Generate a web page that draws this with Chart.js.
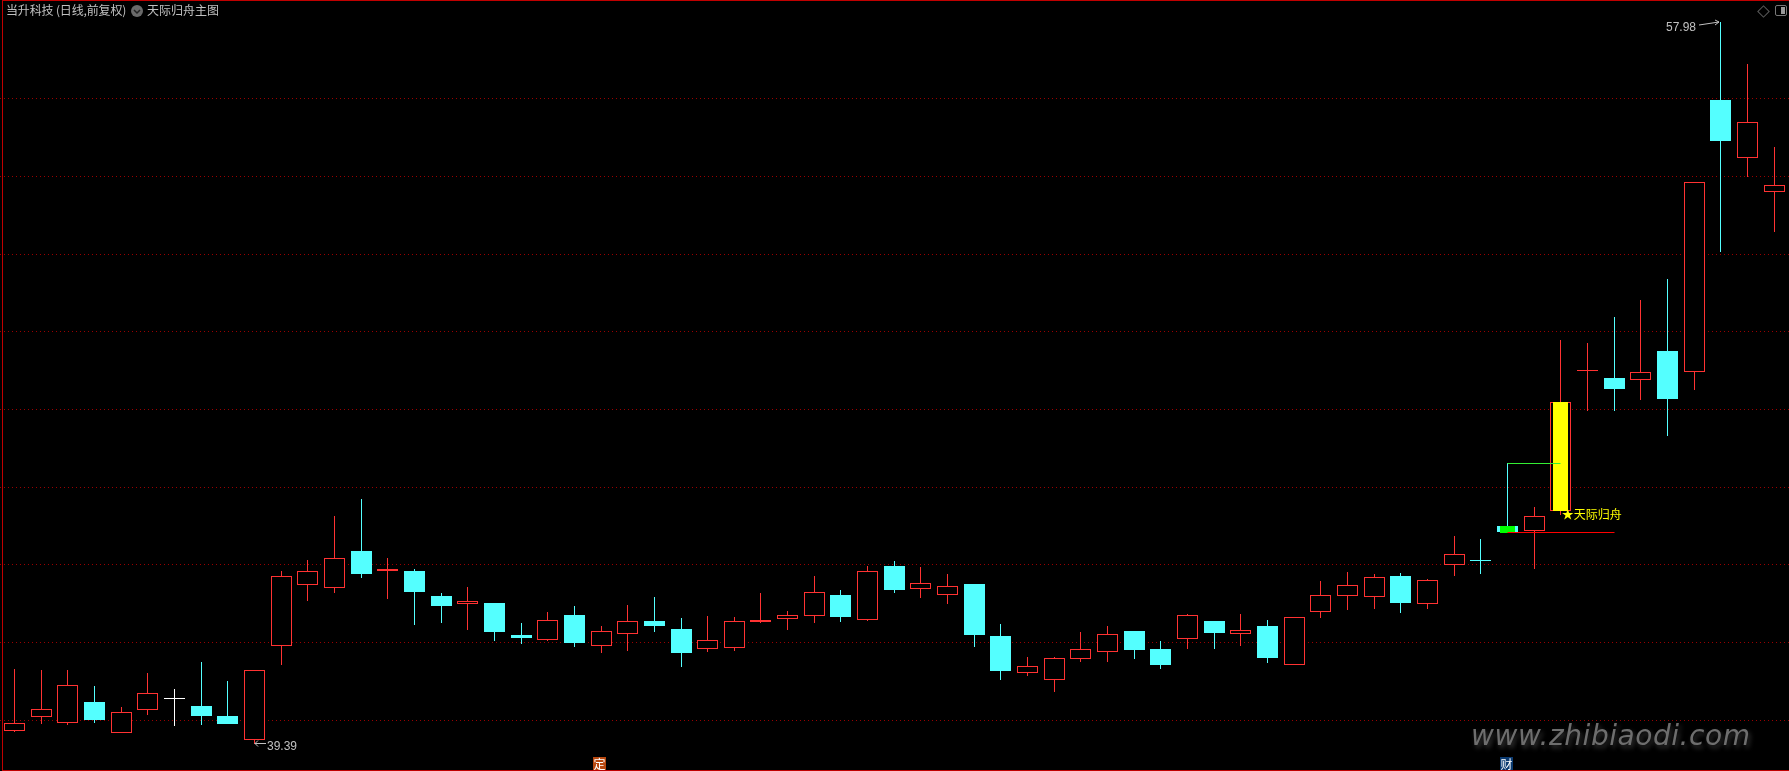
<!DOCTYPE html>
<html lang="zh-CN">
<head>
    <meta charset="UTF-8">
    <title>当升科技 日线</title>
    <script src="https://cdn.jsdelivr.net/npm/chart.js"></script>
    <style>
        html, body {
            margin: 0;
            width: 1789px;
            height: 771px;
            overflow: hidden;
            background: #000;
        }
        canvas { position: absolute; left: 0; top: 0; }
        .frame {
            position: absolute;
            left: 2px;
            top: 0;
            width: 1787px;
            height: 769px;
            border-top: 1px solid #c00000;
            border-left: 1px solid #c00000;
            border-bottom: 1px solid #c00000;
        }
        .head {
            position: absolute;
            top: 2px;
            font: 12px/16px "Noto Sans CJK SC", sans-serif;
            color: #c0c0c0;
            white-space: nowrap;
        }
        .badge {
            position: absolute;
            top: 757px;
            width: 13px;
            height: 13px;
            font: 12px/13px "Noto Sans CJK SC", sans-serif;
            color: #fff;
            text-align: center;
        }
        .watermark {
            position: absolute;
            left: 1471px;
            top: 719px;
            font: italic 28px/34px "DejaVu Sans", sans-serif;
            letter-spacing: 0.55px;
            color: #6e6e6e;
            text-shadow: 2px 3px 5px #3a3a3a;
            white-space: nowrap;
        }
        .icon-diamond {
            position: absolute;
            left: 1759px;
            top: 7px;
            width: 7px;
            height: 7px;
            border: 1px solid #5a5a5a;
            transform: rotate(45deg);
        }
        .icon-panel {
            position: absolute;
            left: 1775px;
            top: 5px;
            width: 10px;
            height: 9px;
            border: 1px solid #777;
            border-radius: 2px;
        }
        .icon-panel div {
            position: absolute;
            right: 1px;
            top: 1px;
            width: 4px;
            height: 7px;
            background: #999;
        }
        .icon-menu { position: absolute; left: 131px; top: 5px; }
    </style>
</head>
<body>
    <canvas id="klineChart" width="1789" height="771"></canvas>
    <div class="frame"></div>
    <div class="head" style="left:6px;letter-spacing:-0.15px">当升科技 (日线,前复权)</div>
    <svg class="icon-menu" width="12" height="12">
        <circle cx="6" cy="6" r="6" fill="#6a6a6a"/>
        <polyline points="3,5 6,8 9,5" fill="none" stroke="#222" stroke-width="1.5"/>
    </svg>
    <div class="head" style="left:147px">天际归舟主图</div>
    <div class="icon-diamond"></div>
    <div class="icon-panel"><div></div></div>
    <div class="badge" style="left:593px;background:#b8480f">定</div>
    <div class="badge" style="left:1500px;background:#0b3a70">财</div>
    <div class="watermark">www.zhibiaodi.com</div>

    <script>
        const opens = [39.73, 40.09, 39.94, 40.47, 39.68, 40.27, 40.57, 40.37, 40.11, 39.50,
            41.90, 43.49, 43.41, 44.36, 43.84, 43.84, 43.20, 43.00, 43.02, 42.20,
            42.07, 42.71, 41.90, 42.23, 42.56, 42.35, 41.84, 41.87, 42.53, 42.62,
            42.69, 43.23, 42.59, 43.97, 43.39, 43.23, 43.51, 42.17, 41.23, 41.05,
            41.59, 41.77, 42.30, 41.84, 42.10, 42.56, 42.23, 42.43, 41.43, 42.80,
            43.21, 43.18, 43.71, 43.00, 44.01, 44.12, 45.00, 44.88, 45.40, 49.01,
            48.81, 48.77, 49.51, 48.97, 55.97, 54.48, 53.61];
        const closes = [39.92, 40.28, 40.90, 40.01, 40.21, 40.69, 40.57, 40.11, 39.90, 41.29,
            43.71, 43.83, 44.17, 43.77, 43.89, 43.30, 42.94, 43.07, 42.27, 42.12,
            42.57, 41.99, 42.29, 42.55, 42.43, 41.73, 42.06, 42.55, 42.58, 42.70,
            43.29, 42.66, 43.83, 43.35, 43.53, 43.45, 42.20, 41.27, 41.39, 41.60,
            41.83, 42.21, 41.81, 41.42, 42.70, 42.25, 42.32, 41.60, 42.65, 43.23,
            43.48, 43.68, 43.02, 43.60, 44.27, 44.12, 44.85, 45.25, 48.19, 49.01,
            48.53, 48.96, 48.27, 53.85, 54.91, 55.39, 53.77];
        const highs = [41.32, 41.29, 41.29, 40.88, 40.34, 41.22, 40.81, 41.50, 41.01, 41.29,
            43.84, 44.13, 45.26, 45.70, 44.18, 43.89, 43.28, 43.43, 43.02, 42.50,
            42.79, 42.94, 42.43, 42.97, 43.17, 42.63, 42.68, 42.66, 43.28, 42.81,
            43.71, 43.35, 43.97, 44.10, 43.95, 43.77, 43.51, 42.48, 41.63, 41.63,
            42.27, 42.43, 42.30, 42.04, 42.74, 42.56, 42.74, 42.58, 42.65, 43.59,
            43.82, 43.77, 43.79, 43.64, 44.74, 44.67, 46.62, 45.49, 49.79, 49.71,
            50.38, 50.82, 51.36, 53.85, 57.98, 56.89, 54.76];
        const lows = [39.70, 39.90, 39.88, 39.93, 39.68, 40.14, 39.85, 39.88, 39.90, 39.39,
            41.42, 43.07, 43.28, 43.66, 43.12, 42.45, 42.50, 42.32, 42.04, 41.96,
            42.04, 41.89, 41.73, 41.78, 42.27, 41.37, 41.76, 41.78, 42.50, 42.32,
            42.50, 42.53, 42.56, 43.28, 43.15, 42.99, 41.89, 41.04, 41.14, 40.73,
            41.50, 41.50, 41.58, 41.32, 41.84, 41.84, 41.91, 41.47, 41.43, 42.63,
            42.84, 42.86, 42.76, 42.86, 43.71, 43.77, 44.85, 43.89, 45.28, 47.97,
            47.97, 48.24, 47.32, 48.50, 52.06, 53.99, 52.58];

        // dotted price levels
        const gridLevels = [40, 42, 44, 46, 48, 50, 52, 54, 56];

        // indicator marks: index of the setup bar and the signal bar
        const setupBar = 56;
        const signalBar = 58;
        const setupZone = [44.82, 45.00];
        const signalZone = [45.40, 48.19];
        const setupLevel = 46.62;
        const supportLevel = 44.84;
        const supportEnd = 60;
        const signalText = '★天际归舟';
        const lowBar = 9;
        const highBar = 64;
        const lowPrice = 39.39;
        const highPrice = 57.98;
        const whiteDoji = [6];

        const RED = '#ff3232';
        const CYAN = '#54ffff';
        const GREY = '#c0c0c0';

        function candleColor(i) {
            if (closes[i] > opens[i]) return RED;
            if (closes[i] < opens[i]) return CYAN;
            if (whiteDoji.includes(i)) return '#ffffff';
            return closes[i] >= closes[i - 1] ? RED : CYAN;
        }
        const edgeColors = opens.map((o, i) => candleColor(i));
        const fillColors = opens.map((o, i) => closes[i] > o ? '#000000' : edgeColors[i]);

        // chart.js leaves bars on fractions of a pixel, the original is crisp
        const snapPlugin = {
            id: 'snap',
            afterDatasetsUpdate(chart) {
                chart.getSortedVisibleDatasetMetas().forEach(meta => {
                    meta.data.forEach(el => {
                        el.x = Math.floor(el.x) + 0.5;
                        if (meta.type === 'bar') {
                            el.y = Math.round(el.y);
                            el.base = Math.round(el.base);
                            if (el.y === el.base) el.base += 1;
                        } else {
                            el.y = Math.floor(el.y) + 0.5;
                        }
                    });
                });
            }
        };

        const labelPlugin = {
            id: 'labels',
            afterDatasetsDraw(chart) {
                const { ctx, scales: { x, y } } = chart;
                const lowX = Math.floor(x.getPixelForValue(lowBar));
                const lowY = Math.floor(y.getPixelForValue(lowPrice)) + 0.5;
                const highX = Math.floor(x.getPixelForValue(highBar));
                const highY = Math.floor(y.getPixelForValue(highPrice));
                ctx.save();
                ctx.strokeStyle = GREY;
                ctx.fillStyle = GREY;
                ctx.lineWidth = 1;
                ctx.textBaseline = 'middle';
                ctx.font = '12px "Liberation Sans"';

                // arrow to the low
                ctx.beginPath();
                ctx.moveTo(lowX + 12, lowY);
                ctx.lineTo(lowX + 1, lowY);
                ctx.moveTo(lowX + 4, lowY - 3);
                ctx.lineTo(lowX + 1, lowY);
                ctx.lineTo(lowX + 4, lowY + 3);
                ctx.stroke();
                ctx.textAlign = 'left';
                ctx.fillText(lowPrice.toFixed(2), lowX + 13, lowY + 3);

                // arrow to the high
                ctx.beginPath();
                ctx.moveTo(highX - 21, highY + 4);
                ctx.lineTo(highX - 1, highY + 1);
                ctx.moveTo(highX - 5, highY - 1);
                ctx.lineTo(highX - 1, highY + 1);
                ctx.lineTo(highX - 5, highY + 4);
                ctx.stroke();
                ctx.textAlign = 'right';
                ctx.fillText(highPrice.toFixed(2), highX - 24, highY + 7);

                // signal name
                ctx.fillStyle = '#ffff00';
                ctx.textAlign = 'left';
                ctx.font = '12px "Noto Sans CJK SC"';
                ctx.fillText(signalText, x.getPixelForValue(signalBar) + 1, y.getPixelForValue(signalZone[0]) + 4);
                ctx.restore();
            }
        };

        const barDefaults = { grouped: false, inflateAmount: 0, borderSkipped: false };
        const ctx = document.getElementById('klineChart').getContext('2d');

        new Chart(ctx, {
            type: 'bar',
            data: {
                datasets: [
                    {
                        ...barDefaults,
                        order: 4,
                        data: opens.map((o, i) => ({ x: i, y: [lows[i], highs[i]] })),
                        backgroundColor: edgeColors,
                        barThickness: 1
                    },
                    {
                        ...barDefaults,
                        order: 3,
                        data: opens.map((o, i) => ({ x: i, y: [o, closes[i]] })),
                        backgroundColor: fillColors,
                        borderColor: edgeColors,
                        borderWidth: 1,
                        barThickness: 21
                    },
                    {
                        ...barDefaults,
                        order: 2,
                        data: [{ x: setupBar, y: setupZone }, { x: signalBar, y: signalZone }],
                        backgroundColor: ['#00ff00', '#ffff00'],
                        barThickness: 15
                    },
                    {
                        type: 'line',
                        order: 1,
                        data: [{ x: setupBar, y: setupLevel }, { x: signalBar, y: setupLevel }],
                        borderColor: '#33ee33',
                        borderWidth: 1,
                        pointRadius: 0
                    },
                    {
                        type: 'line',
                        order: 1,
                        data: [{ x: setupBar, y: supportLevel }, { x: supportEnd, y: supportLevel }],
                        borderColor: '#ff0000',
                        borderWidth: 1,
                        pointRadius: 0
                    }
                ]
            },
            options: {
                responsive: false,
                animation: false,
                events: [],
                layout: { padding: 0 },
                plugins: { legend: { display: false }, tooltip: { enabled: false } },
                scales: {
                    x: { type: 'linear', display: false, offset: false, min: -0.544, max: 66.56 },
                    y: {
                        min: 38.695,
                        max: 58.54,
                        afterBuildTicks: scale => {
                            scale.ticks = gridLevels.map(v => ({ value: v }));
                        },
                        ticks: { display: false },
                        border: { display: false, dash: [1, 3] },
                        grid: { color: '#9a0000', drawTicks: false }
                    }
                }
            },
            plugins: [snapPlugin, labelPlugin]
        });
    </script>
</body>
</html>
